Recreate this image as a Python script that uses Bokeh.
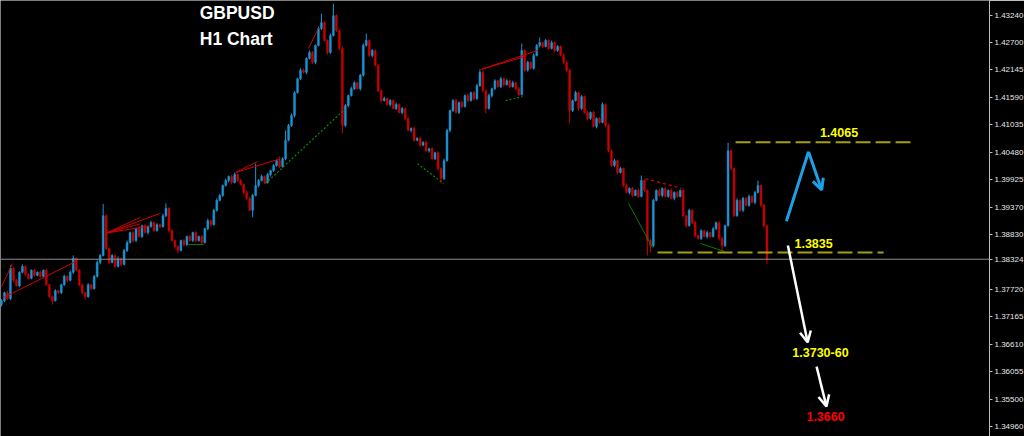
from bokeh.plotting import figure
from bokeh.models import (Range1d, FixedTicker, Span, Label, Arrow, OpenHead,
                          ColumnDataSource, PrintfTickFormatter)
from bokeh.embed import file_html
from bokeh.resources import INLINE

# ---------------- data (GBPUSD H1 candles) ----------------
first_open = 1.3741
closes = [
    1.3749, 1.3765, 1.3753, 1.3814, 1.3790, 1.3779, 1.3806, 1.3818, 1.3802, 1.3794, 1.3810, 1.3800, 1.3806, 1.3798, 1.3810, 1.3781, 1.3757, 1.3749, 1.3769, 1.3765,
    1.3781, 1.3798, 1.3790, 1.3806, 1.3834, 1.3810, 1.3781, 1.3765, 1.3757, 1.3781, 1.3773, 1.3798, 1.3826, 1.3840, 1.3920, 1.3854, 1.3826, 1.3840, 1.3818, 1.3834,
    1.3822, 1.3850, 1.3866, 1.3886, 1.3870, 1.3894, 1.3878, 1.3900, 1.3886, 1.3898, 1.3906, 1.3890, 1.3902, 1.3898, 1.3920, 1.3935, 1.3890, 1.3870, 1.3858, 1.3850,
    1.3870, 1.3862, 1.3878, 1.3870, 1.3886, 1.3870, 1.3878, 1.3866, 1.3894, 1.3910, 1.3902, 1.3931, 1.3951, 1.3961, 1.3981, 1.3991, 1.3999, 1.3987, 1.4003, 1.3991,
    1.3983, 1.3967, 1.3955, 1.3931, 1.3961, 1.3981, 1.3991, 1.3999, 1.3987, 1.4003, 1.4011, 1.4021, 1.4031, 1.4019, 1.4035, 1.4072, 1.4102, 1.4122, 1.4168, 1.4196,
    1.4213, 1.4209, 1.4237, 1.4249, 1.4229, 1.4263, 1.4297, 1.4309, 1.4273, 1.4249, 1.4283, 1.4323, 1.4293, 1.4257, 1.4102, 1.4142, 1.4162, 1.4176, 1.4188, 1.4176,
    1.4203, 1.4263, 1.4273, 1.4243, 1.4253, 1.4223, 1.4172, 1.4152, 1.4156, 1.4144, 1.4152, 1.4136, 1.4144, 1.4128, 1.4136, 1.4116, 1.4092, 1.4096, 1.4072, 1.4076,
    1.4062, 1.4068, 1.4051, 1.4055, 1.4035, 1.4047, 1.4015, 1.3995, 1.4031, 1.4092, 1.4132, 1.4152, 1.4128, 1.4148, 1.4140, 1.4162, 1.4152, 1.4168, 1.4156, 1.4182,
    1.4209, 1.4172, 1.4136, 1.4162, 1.4176, 1.4192, 1.4180, 1.4196, 1.4184, 1.4192, 1.4180, 1.4188, 1.4176, 1.4164, 1.4253, 1.4213, 1.4229, 1.4217, 1.4243, 1.4263,
    1.4269, 1.4261, 1.4273, 1.4257, 1.4269, 1.4253, 1.4261, 1.4243, 1.4229, 1.4213, 1.4132, 1.4152, 1.4168, 1.4136, 1.4160, 1.4128, 1.4116, 1.4128, 1.4100, 1.4116,
    1.4108, 1.4144, 1.4102, 1.4051, 1.4021, 1.4031, 1.4007, 1.4015, 1.3981, 1.3967, 1.3975, 1.3961, 1.3971, 1.3959, 1.3991, 1.3971, 1.3870, 1.3860, 1.3951, 1.3971,
    1.3961, 1.3975, 1.3959, 1.3971, 1.3955, 1.3967, 1.3959, 1.3971, 1.3920, 1.3900, 1.3931, 1.3906, 1.3880, 1.3874, 1.3890, 1.3878, 1.3886, 1.3878, 1.3894, 1.3906,
    1.3874, 1.3860, 1.3900, 1.4051, 1.4015, 1.3920, 1.3951, 1.3931, 1.3955, 1.3941, 1.3959, 1.3947, 1.3967, 1.3981, 1.3941, 1.3900, 1.38324,
]
# wick lengths beyond the body, in pips
upper_wick_pips = [
    3, 2, 4, 6, 2, 3, 2, 4, 2, 3, 2, 3, 2, 4, 2, 3, 2, 2, 3, 2,
    2, 3, 2, 4, 6, 2, 3, 2, 2, 3, 2, 3, 4, 3, 24, 3, 2, 3, 2, 4,
    2, 3, 4, 2, 3, 2, 4, 2, 3, 2, 4, 2, 3, 2, 4, 10, 2, 3, 2, 3,
    2, 3, 2, 4, 2, 3, 2, 3, 2, 4, 2, 3, 4, 3, 2, 4, 2, 3, 4, 2,
    3, 2, 4, 2, 3, 44, 3, 4, 2, 3, 2, 3, 2, 8, 3, 20, 3, 4, 3, 2,
    4, 3, 2, 4, 3, 2, 4, 18, 3, 2, 4, 24, 3, 2, 4, 3, 2, 4, 3, 2,
    3, 4, 14, 2, 3, 2, 3, 2, 4, 2, 3, 2, 4, 2, 3, 2, 3, 2, 4, 2,
    3, 2, 4, 2, 3, 2, 3, 2, 4, 3, 2, 3, 4, 2, 3, 2, 4, 2, 3, 4,
    6, 3, 2, 4, 2, 3, 2, 4, 2, 3, 2, 4, 2, 3, 14, 2, 3, 2, 4, 3,
    10, 2, 3, 2, 4, 2, 3, 2, 4, 2, 3, 2, 4, 2, 3, 2, 4, 2, 3, 2,
    3, 4, 2, 3, 2, 4, 2, 3, 2, 4, 2, 3, 2, 4, 10, 3, 2, 4, 3, 2,
    4, 2, 3, 2, 4, 2, 3, 2, 4, 2, 3, 2, 4, 2, 3, 2, 4, 2, 3, 2,
    3, 4, 2, 16, 3, 2, 4, 2, 3, 2, 4, 2, 3, 10, 2, 3, 2,
]
lower_wick_pips = [
    4, 3, 2, 3, 4, 2, 3, 2, 4, 3, 2, 3, 2, 3, 4, 2, 3, 8, 2, 3,
    3, 2, 4, 2, 3, 2, 3, 4, 6, 2, 3, 2, 3, 4, 2, 3, 4, 2, 3, 2,
    4, 2, 3, 2, 4, 3, 2, 3, 2, 4, 2, 3, 2, 3, 2, 3, 4, 2, 4, 6,
    2, 4, 3, 2, 3, 4, 2, 3, 2, 3, 4, 2, 3, 2, 3, 2, 4, 3, 2, 3,
    2, 4, 3, 2, 14, 2, 4, 2, 3, 2, 4, 3, 2, 3, 2, 3, 2, 3, 4, 2,
    3, 2, 4, 2, 3, 4, 2, 3, 2, 4, 3, 2, 3, 4, 16, 3, 4, 2, 3, 2,
    4, 3, 2, 3, 4, 2, 3, 4, 2, 3, 4, 2, 3, 2, 4, 3, 2, 4, 3, 2,
    4, 2, 3, 4, 2, 3, 4, 10, 3, 2, 4, 3, 2, 3, 4, 2, 3, 2, 4, 3,
    2, 3, 10, 2, 4, 3, 2, 3, 4, 2, 3, 2, 4, 3, 2, 4, 3, 2, 3, 2,
    4, 3, 2, 3, 2, 4, 3, 2, 3, 4, 26, 3, 2, 4, 3, 2, 4, 3, 2, 4,
    3, 2, 4, 3, 2, 3, 4, 2, 3, 2, 4, 3, 2, 3, 2, 4, 30, 14, 3, 2,
    3, 4, 2, 3, 2, 4, 3, 2, 3, 4, 2, 3, 4, 2, 3, 2, 4, 3, 2, 3,
    4, 12, 3, 2, 4, 3, 2, 3, 4, 2, 3, 2, 4, 2, 3, 4, 10,
]
price_ticks = [1.43240, 1.42700, 1.42145, 1.41590, 1.41035, 1.40480, 1.39925, 1.39370,
               1.38830, 1.37720, 1.37165, 1.36610, 1.36055, 1.35500, 1.34960]
current_price = 1.38324

# annotation levels and targets
resistance_level = 1.4068
support_level = 1.3846
title_lines = ["GBPUSD", "H1 Chart"]
level_texts = ["1.4065", "1.3835", "1.3730-60", "1.3660"]

# hand-drawn trend lines (bar index, price)
red_lines = [
    ((0.0, 1.3777), (3.7, 1.3824)),
    ((0.7, 1.3755), (24.8, 1.3828)),
    ((35.1, 1.3885), (46.5, 1.3917)),
    ((35.1, 1.3885), (53.2, 1.3925)),
    ((35.1, 1.3885), (46.5, 1.3904)),
    ((35.1, 1.3885), (49.8, 1.3900)),
    ((78.3, 1.4007), (85.6, 1.4029)),
    ((78.3, 1.4007), (93.3, 1.4035)),
    ((102.7, 1.4257), (106.0, 1.4298)),
    ((160.5, 1.4215), (179.3, 1.4253)),
    ((160.5, 1.4215), (175.3, 1.4241)),
]
red_dashed_lines = [((215.4, 1.3995), (227.4, 1.3975))]
green_dotted_lines = [
    ((88.3, 1.3985), (114.4, 1.4132)),
    ((139.1, 1.4025), (147.8, 1.3985)),
    ((168.6, 1.4152), (174.2, 1.4160)),
]
green_lines = [
    ((62.5, 1.3862), (67.6, 1.3862)),
    ((209.7, 1.3945), (217.7, 1.3856)),
    ((233.8, 1.3864), (241.8, 1.3848)),
]

assert len(closes) == len(upper_wick_pips) == len(lower_wick_pips)

# ---------------- build candles ----------------
BULL = "#1c94d4"
BEAR = "#c80000"
n = len(closes)
idx = list(range(n))
opens = [first_open] + closes[:-1]
highs = [max(o, c) + u * 0.0001 for o, c, u in zip(opens, closes, upper_wick_pips)]
lows = [min(o, c) - l * 0.0001 for o, c, l in zip(opens, closes, lower_wick_pips)]
colors = [BULL if c >= o else BEAR for o, c in zip(opens, closes)]
src = ColumnDataSource(dict(x=idx, open=opens, close=closes, high=highs, low=lows,
                            top=[max(o, c) for o, c in zip(opens, closes)],
                            bottom=[min(o, c) for o, c in zip(opens, closes)],
                            color=colors))

X_END = 330.43
p = figure(frame_width=989, frame_height=436, output_backend="svg", toolbar_location=None,
           x_axis_location=None, y_axis_location="right",
           x_range=Range1d(-0.334, X_END), y_range=Range1d(1.34753, 1.43536),
           background_fill_color="black", border_fill_color="black",
           outline_line_color=None,
           min_border_left=0, min_border_right=35, min_border_top=0, min_border_bottom=0)
p.grid.visible = False

ax = p.yaxis[0]
# the current price is shown on the price scale as well
ax.ticker = FixedTicker(ticks=sorted(price_ticks + [current_price], reverse=True))
ax.formatter = PrintfTickFormatter(format="%.5f")
ax.axis_line_color = "#bcbcbc"
ax.major_tick_line_color = "#bcbcbc"
ax.major_tick_in = 0
ax.major_tick_out = 3
ax.minor_tick_line_color = None
ax.major_label_standoff = 2
ax.axis_label_standoff = 0
ax.major_label_text_color = "#e6e6e6"
ax.major_label_text_font = "Liberation Sans"
ax.major_label_text_font_size = "8px"

# current price line
p.add_layout(Span(location=current_price, dimension="width", line_color="#8e8e8e", line_width=1))

# candles
p.segment(x0="x", y0="high", x1="x", y1="low", color="color", line_width=1, source=src)
p.vbar(x="x", width=0.62, top="top", bottom="bottom", fill_color="color",
       line_color="color", line_width=0.5, source=src)

# trend lines
for (a, b) in red_lines:
    p.line([a[0], b[0]], [a[1], b[1]], line_color="#d00000", line_width=1)
for (a, b) in red_dashed_lines:
    p.line([a[0], b[0]], [a[1], b[1]], line_color="#d00000", line_width=1.3, line_dash="3 3")
for (a, b) in green_dotted_lines:
    p.line([a[0], b[0]], [a[1], b[1]], line_color="#0a8a0a", line_width=1.2, line_dash="2 2")
for (a, b) in green_lines:
    p.line([a[0], b[0]], [a[1], b[1]], line_color="#0a7a0a", line_width=1)

# support / resistance
LEVEL = "#a39e12"
p.line([245.5, 304.0], [resistance_level, resistance_level], line_color=LEVEL, line_width=2, line_dash="15 5")
p.line([219.4, 295.0], [support_level, support_level], line_color=LEVEL, line_width=2, line_dash="15 5")

# arrows
BLUE_ARROW = "#1ea0e6"
p.line([262.5, 269.9], [1.3909, 1.4049], line_color=BLUE_ARROW, line_width=3)
p.add_layout(Arrow(end=OpenHead(size=11, line_color=BLUE_ARROW, line_width=3),
                   x_start=269.9, y_start=1.4049, x_end=274.3, y_end=1.3972,
                   line_color=BLUE_ARROW, line_width=3))
p.add_layout(Arrow(end=OpenHead(size=11, line_color="white", line_width=2.5),
                   x_start=263.0, y_start=1.3860, x_end=269.6, y_end=1.3665,
                   line_color="white", line_width=2.5))
p.add_layout(Arrow(end=OpenHead(size=11, line_color="white", line_width=2.5),
                   x_start=272.6, y_start=1.3616, x_end=275.9, y_end=1.3536,
                   line_color="white", line_width=2.5))

# texts
def txt(x, y, s, color, size):
    p.add_layout(Label(x=x, y=y, text=s, text_color=color, text_font="Liberation Sans",
                       text_font_style="bold", text_font_size=size,
                       text_align="center", text_baseline="middle"))

txt(78.8, 1.4329, title_lines[0], "white", "17.5px")
txt(78.5, 1.4276, title_lines[1], "white", "17.5px")
txt(280.1, 1.4087, level_texts[0], "#ffff00", "12.5px")
txt(271.6, 1.3865, level_texts[1], "#ffff00", "12.5px")
txt(273.9, 1.3645, level_texts[2], "#ffff00", "12.5px")
txt(275.6, 1.3516, level_texts[3], "#ff0000", "12.5px")

html = file_html(p, INLINE)
html = html.replace("<body>", '<body style="background-color:#000000;overflow:hidden;">', 1)
open("out.html", "w").write(html)
